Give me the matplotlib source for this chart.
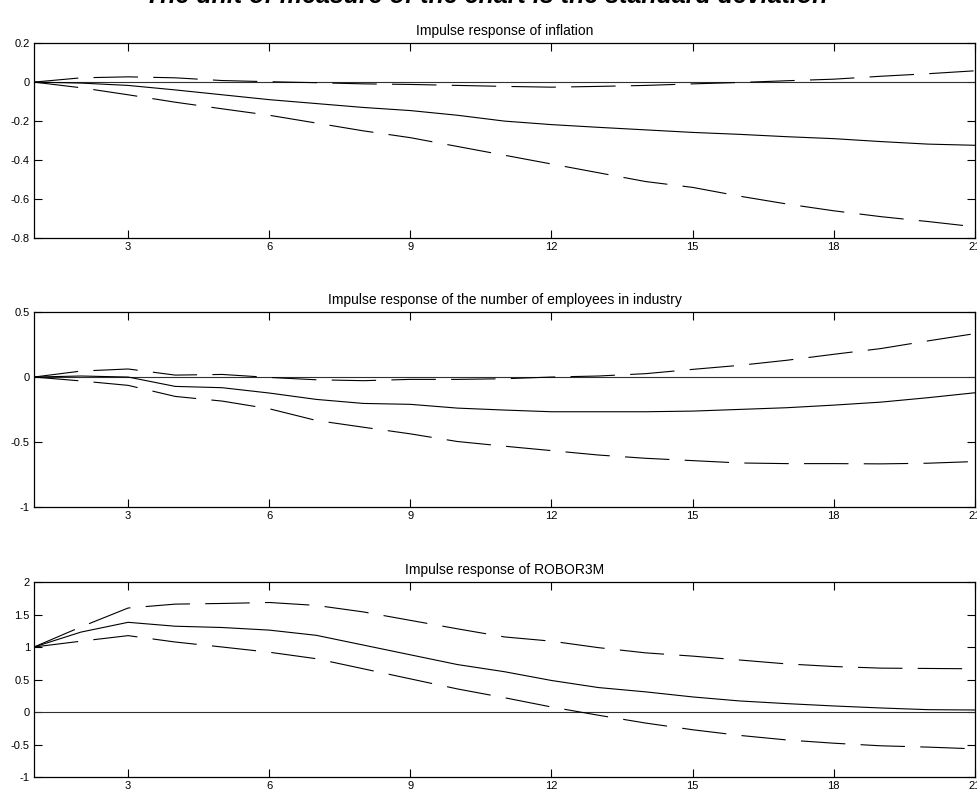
import matplotlib
matplotlib.use("Agg")
import matplotlib.pyplot as plt
import numpy as np

periods = np.arange(1, 22)

# impulse response of inflation
infl_mid = [0, -0.005, -0.017, -0.04, -0.065, -0.09, -0.11, -0.13, -0.146, -0.17, -0.2,
            -0.218, -0.232, -0.245, -0.258, -0.268, -0.28, -0.29, -0.305, -0.318, -0.324]
infl_hi = [0, 0.022, 0.027, 0.022, 0.008, 0.002, -0.003, -0.009, -0.012, -0.017, -0.022,
           -0.026, -0.022, -0.017, -0.009, -0.002, 0.007, 0.015, 0.03, 0.043, 0.058]
infl_lo = [0, -0.029, -0.065, -0.103, -0.137, -0.17, -0.21, -0.25, -0.285, -0.33, -0.375,
           -0.42, -0.465, -0.51, -0.54, -0.585, -0.625, -0.66, -0.69, -0.715, -0.742]

# impulse response of employees in industry
empl_mid = [0, 0.008, 0.0, -0.072, -0.082, -0.123, -0.172, -0.203, -0.21, -0.239, -0.254,
            -0.267, -0.267, -0.267, -0.262, -0.249, -0.236, -0.216, -0.193, -0.159, -0.121]
empl_hi = [0, 0.046, 0.062, 0.015, 0.02, -0.003, -0.021, -0.028, -0.018, -0.018, -0.013,
           0.0, 0.008, 0.026, 0.059, 0.09, 0.129, 0.175, 0.219, 0.278, 0.334]
empl_lo = [0, -0.03, -0.064, -0.149, -0.185, -0.244, -0.334, -0.386, -0.437, -0.496, -0.532,
           -0.566, -0.6, -0.625, -0.643, -0.661, -0.666, -0.666, -0.668, -0.663, -0.65]

# impulse response of ROBOR3M
robor_mid = [1.0, 1.23, 1.38, 1.32, 1.30, 1.26, 1.18, 1.03, 0.88, 0.73, 0.62,
             0.485, 0.376, 0.31, 0.232, 0.17, 0.129, 0.093, 0.062, 0.036, 0.031]
robor_hi = [1.0, 1.31, 1.60, 1.66, 1.67, 1.685, 1.64, 1.54, 1.41, 1.28, 1.155,
            1.09, 0.99, 0.91, 0.86, 0.80, 0.74, 0.70, 0.675, 0.67, 0.665]
robor_lo = [1.0, 1.09, 1.175, 1.077, 1.0, 0.92, 0.82, 0.665, 0.51, 0.355, 0.22,
            0.077, -0.05, -0.17, -0.273, -0.36, -0.43, -0.48, -0.52, -0.54, -0.567]

titles = ["Impulse response of inflation",
          "Impulse response of the number of employees in industry",
          "Impulse response of ROBOR3M"]
ylims = [(-0.8, 0.2), (-1, 0.5), (-1, 2)]
yticks = [[-0.8, -0.6, -0.4, -0.2, 0, 0.2], [-1, -0.5, 0, 0.5], [-1, -0.5, 0, 0.5, 1, 1.5, 2]]
yticklabels = [["-0.8", "-0.6", "-0.4", "-0.2", "0", "0.2"],
               ["-1", "-0.5", "0", "0.5"],
               ["-1", "-0.5", "0", "0.5", "1", "1.5", "2"]]
series = [(infl_mid, infl_hi, infl_lo), (empl_mid, empl_hi, empl_lo),
          (robor_mid, robor_hi, robor_lo)]

plt.rcParams['font.family'] = ['Liberation Sans', 'DejaVu Sans']
plt.rcParams['lines.scale_dashes'] = False

fig = plt.figure(figsize=(9.78, 7.91), dpi=100)
bottoms = [0.699, 0.359, 0.0177]
for i in range(3):
    ax = fig.add_axes([0.0348, bottoms[i], 0.962, 0.2465])
    mid, hi, lo = series[i]
    ax.axhline(0, color='#303030', lw=0.8)
    ax.plot(periods, mid, color='black', lw=0.8)
    ax.plot(periods, hi, color='black', lw=0.8, dashes=(32, 11))
    ax.plot(periods, lo, color='black', lw=0.8, dashes=(32, 11))
    ax.set_xlim(1, 21)
    ax.set_ylim(*ylims[i])
    ax.set_xticks([3, 6, 9, 12, 15, 18, 21])
    ax.set_yticks(yticks[i])
    ax.set_yticklabels(yticklabels[i])
    ax.tick_params(direction='in', top=True, right=True, length=6, width=0.8,
                   labelsize=8, pad=3)
    for s in ax.spines.values():
        s.set_linewidth(0.9)
    ax.set_title(titles[i], fontsize=10, pad=6, fontstretch='condensed')

fig.text(0.497, 1 - 3 / 791, "The unit of measure of the chart is the standard deviation",
         ha='center', va='baseline', fontsize=18, fontweight='bold', fontstyle='italic')

fig.savefig("out.png", dpi=100)
